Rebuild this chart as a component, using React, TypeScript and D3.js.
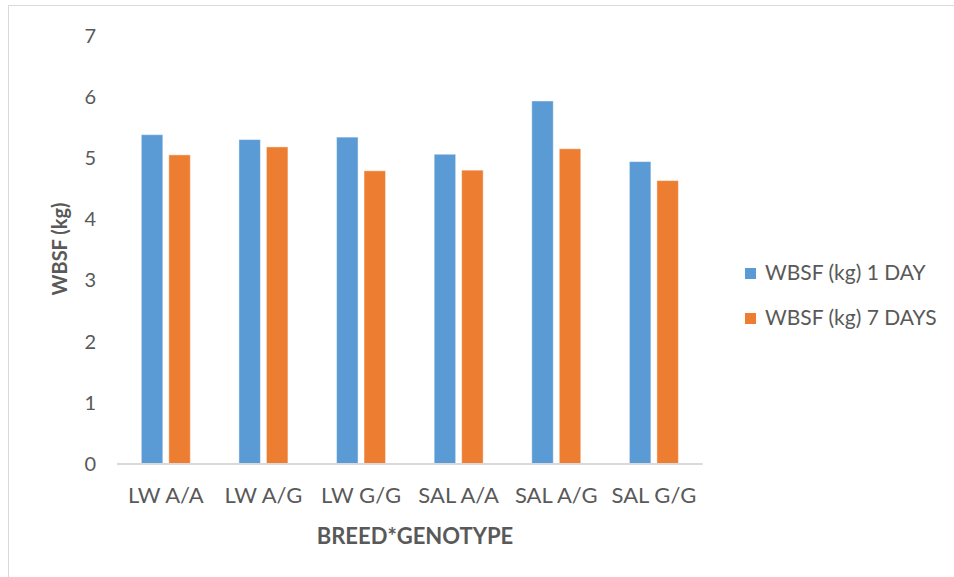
import React from "react";
import * as d3 from "d3";

const categories = ["LW A/A", "LW A/G", "LW G/G", "SAL A/A", "SAL A/G", "SAL G/G"];
const seriesNames = ["WBSF (kg) 1 DAY", "WBSF (kg) 7 DAYS"];
const day1 = [5.38, 5.3, 5.34, 5.06, 5.93, 4.94];
const day7 = [5.05, 5.18, 4.79, 4.8, 5.15, 4.63];
const yTicks = [0, 1, 2, 3, 4, 5, 6, 7];
const colors = ["#5B9BD5", "#ED7D31"];

const W = 954;
const H = 577;
const FONT = "Lato, 'Open Sans', sans-serif";
const TEXT = "#595959";

export default function App() {
  const x0 = d3.scaleBand<string>().domain(categories).range([117, 702.7]).paddingInner(0);
  const groupW = 49;
  const x1 = d3.scaleBand<string>().domain(seriesNames).range([0, groupW]).paddingInner(0.218);
  const y = d3.scaleLinear().domain([0, 7]).range([464, 35.5]);
  const values = [day1, day7];

  return (
    <svg
      width={W}
      height={H}
      style={{ position: "absolute", left: 0, top: 0, background: "#fff" }}
      fontFamily={FONT}
    >
      {/* chart frame */}
      <rect x={8.5} y={5.5} width={W + 20} height={H + 20} fill="#fff" stroke="#d9d9d9" strokeWidth={1} />

      {/* y tick labels */}
      {yTicks.map((t) => (
        <text key={t} x={96} y={y(t)} dy="0.35em" textAnchor="end" fontSize={20} fill={TEXT}>
          {t}
        </text>
      ))}

      {/* bars */}
      {categories.map((c, i) => {
        const gx = (x0(c) as number) + (x0.bandwidth() - groupW) / 2;
        return (
          <g key={c} transform={`translate(${gx},0)`}>
            {seriesNames.map((s, k) => (
              <rect
                key={s}
                x={x1(s) as number}
                y={y(values[k][i])}
                width={x1.bandwidth()}
                height={y(0) - y(values[k][i])}
                fill={colors[k]}
                stroke="#ffffff"
                strokeOpacity={0.45}
                strokeWidth={1}
              />
            ))}
          </g>
        );
      })}

      {/* x axis line */}
      <line x1={117} x2={702.7} y1={y(0)} y2={y(0)} stroke="#d9d9d9" strokeWidth={2} />

      {/* category labels */}
      {categories.map((c) => (
        <text
          key={c}
          x={(x0(c) as number) + x0.bandwidth() / 2}
          y={503}
          textAnchor="middle"
          fontSize={22}
          fill={TEXT}
        >
          {c}
        </text>
      ))}

      {/* axis titles */}
      <text x={415} y={543.5} textAnchor="middle" fontSize={22} fontWeight="bold" fill={TEXT}>
        BREED*GENOTYPE
      </text>
      <text
        transform={`translate(67,249) rotate(-90)`}
        textAnchor="middle"
        fontSize={20}
        fontWeight="bold"
        fill={TEXT}
      >
        WBSF (kg)
      </text>

      {/* legend */}
      {seriesNames.map((s, k) => (
        <g key={s} transform={`translate(745,${268 + k * 45})`}>
          <rect x={0} y={0} width={11} height={11} fill={colors[k]} />
          <text x={20} y={11.5} fontSize={21} fill={TEXT}>
            {s}
          </text>
        </g>
      ))}
    </svg>
  );
}
